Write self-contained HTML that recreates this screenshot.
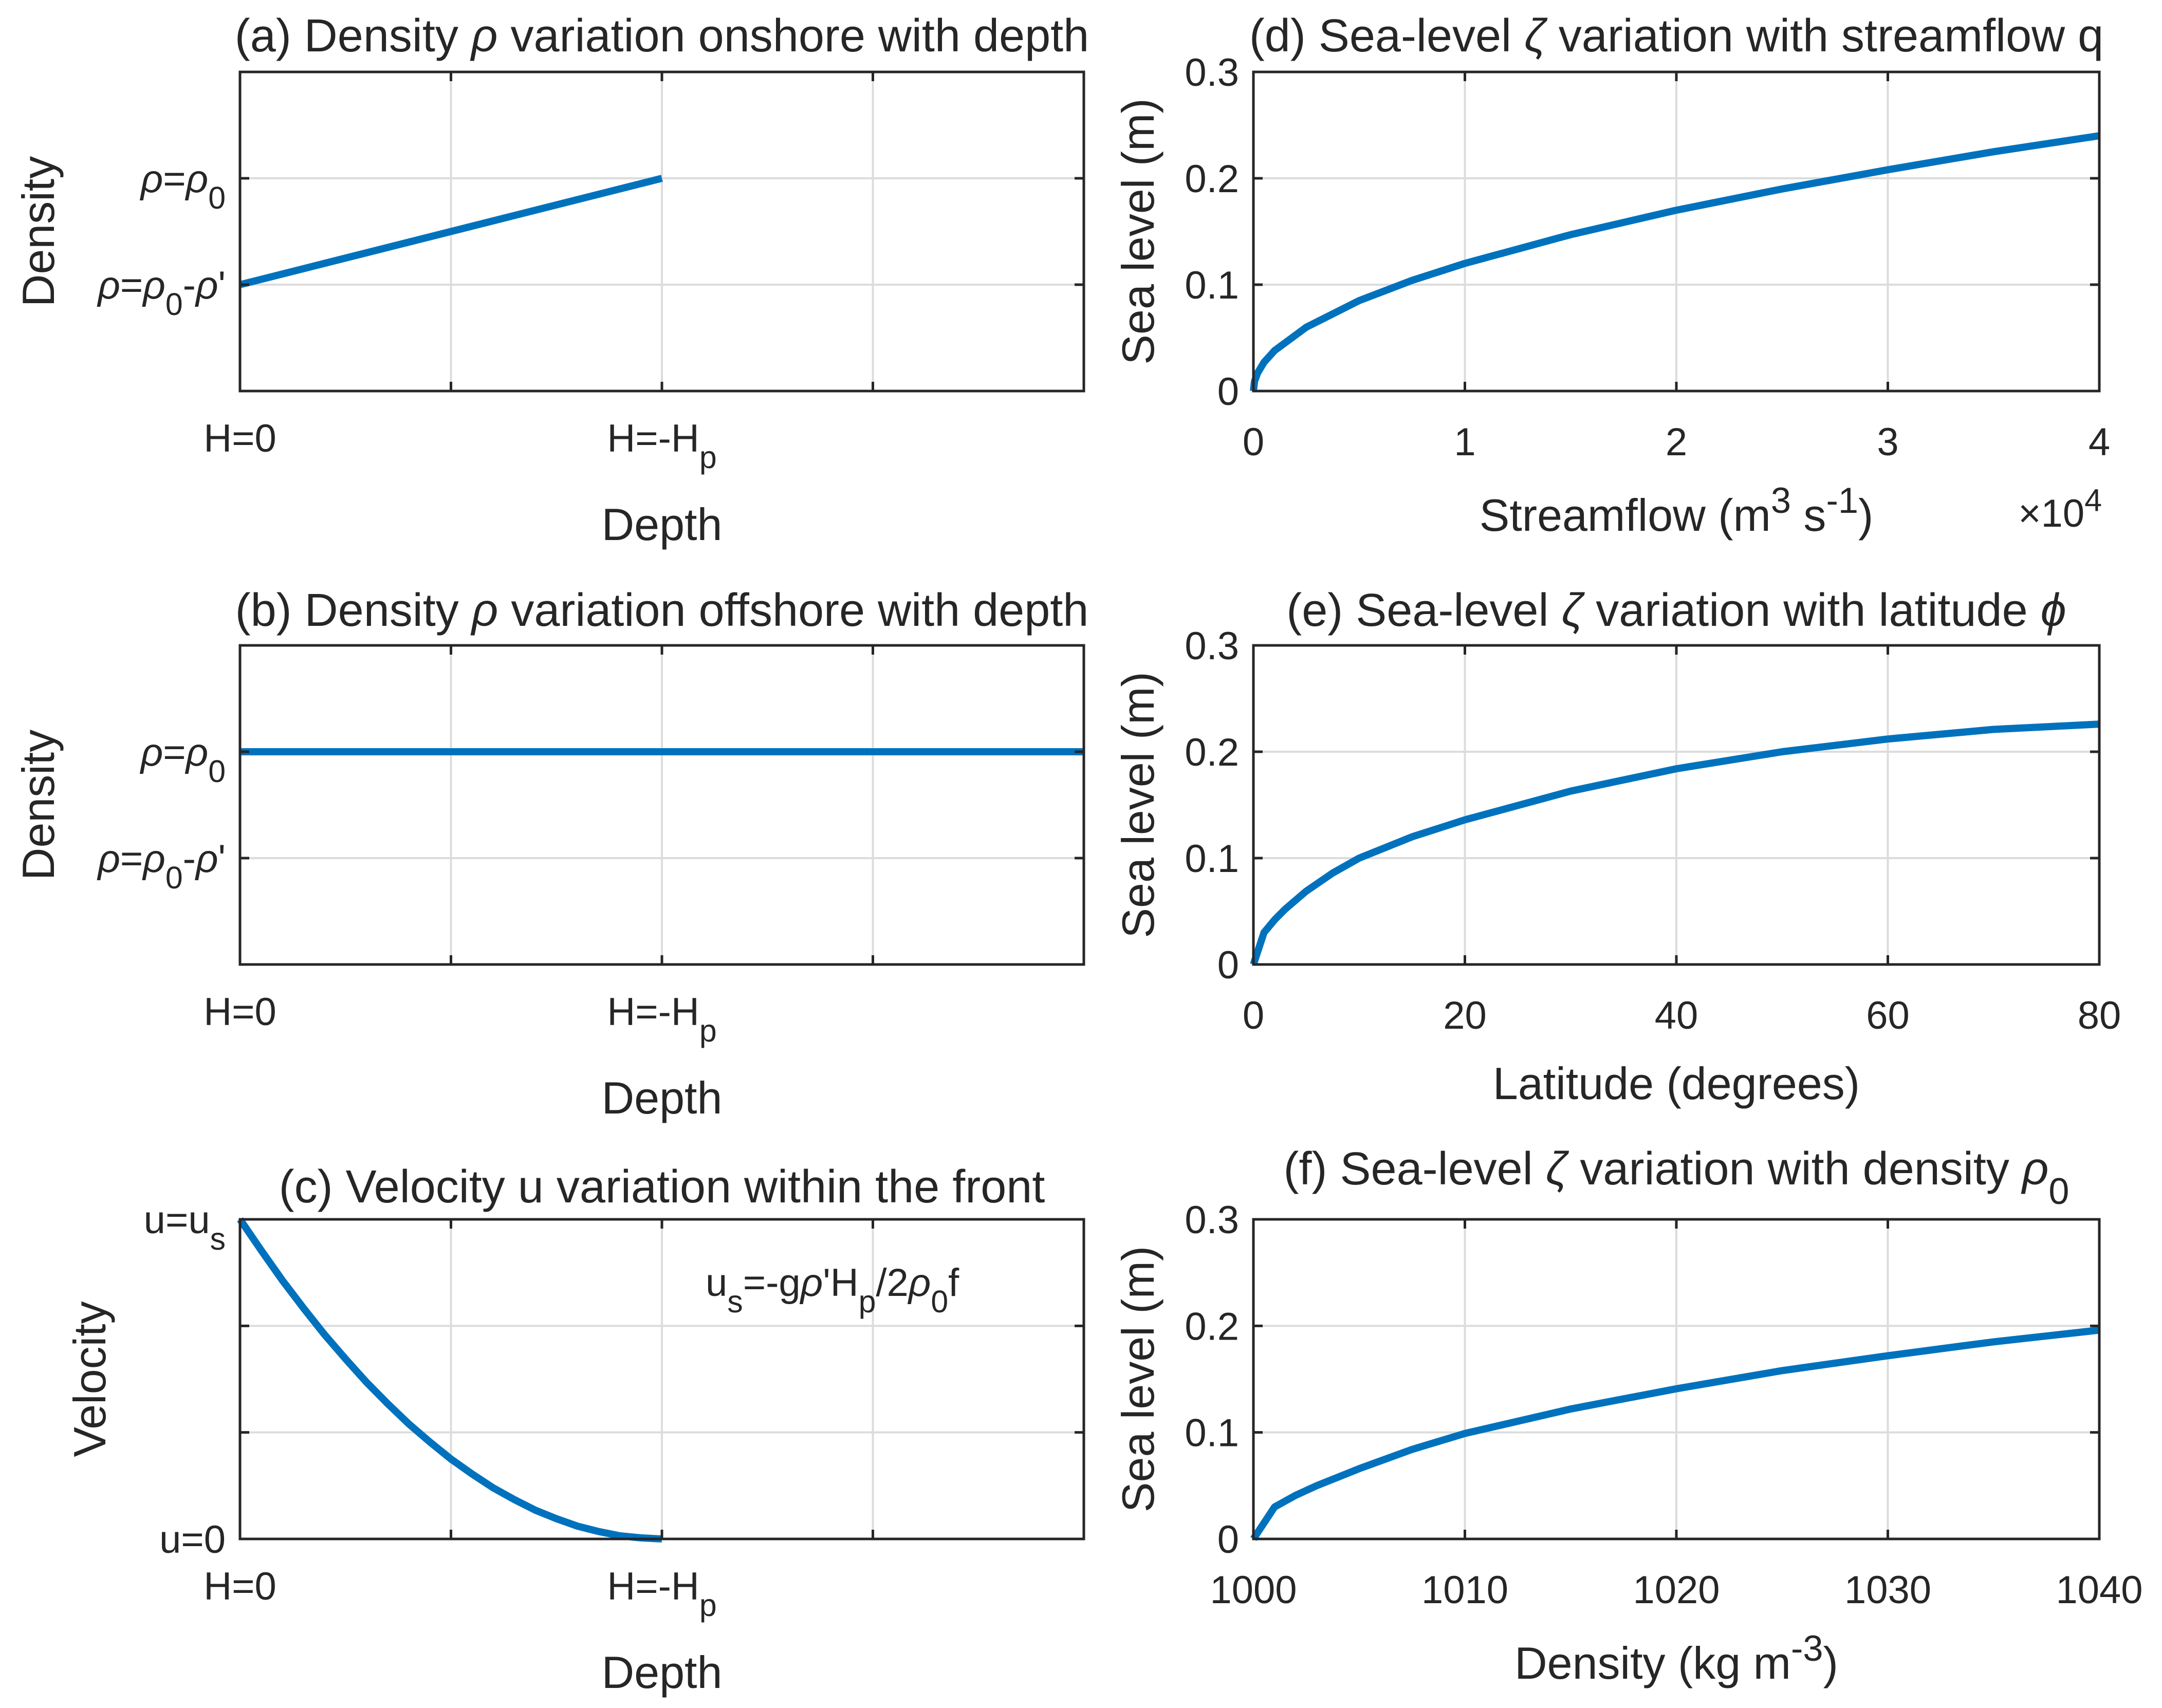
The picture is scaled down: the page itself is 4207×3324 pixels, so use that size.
<!DOCTYPE html>
<html><head><meta charset="utf-8"><style>
html,body{margin:0;padding:0;background:#fff}
svg{display:block}
text{font-family:"Liberation Sans",sans-serif;fill:#262626}
</style></head><body>
<svg id="fig" width="4207" height="3324" viewBox="0 0 4207 3324" xmlns="http://www.w3.org/2000/svg"></svg>
<script>
// ---- data ----
const aX = [0, 2];
const aY = [1, 2];
const bX = [0, 4];
const bY = [2, 2];
const cX = [0, 0.1, 0.2, 0.3, 0.4, 0.5, 0.6, 0.7, 0.8, 0.9, 1.0, 1.1, 1.2, 1.3, 1.4, 1.5, 1.6, 1.7, 1.8, 1.9, 2.0];
const cY = [3, 2.71, 2.43, 2.17, 1.92, 1.69, 1.47, 1.27, 1.08, 0.91, 0.75, 0.61, 0.48, 0.37, 0.27, 0.19, 0.12, 0.07, 0.03, 0.01, 0];
const dX = [0, 0.005, 0.02, 0.05, 0.1, 0.25, 0.5, 0.75, 1, 1.5, 2, 2.5, 3, 3.5, 4];
const dY = [0, 0.009, 0.017, 0.027, 0.038, 0.06, 0.085, 0.104, 0.12, 0.147, 0.17, 0.19, 0.208, 0.225, 0.24];
const eX = [0, 1, 2, 3, 5, 7.5, 10, 15, 20, 30, 40, 50, 60, 70, 80];
const eY = [0, 0.03, 0.042, 0.052, 0.069, 0.086, 0.1, 0.12, 0.136, 0.163, 0.184, 0.2, 0.212, 0.221, 0.226];
const fX = [1000, 1001, 1002, 1003, 1005, 1007.5, 1010, 1015, 1020, 1025, 1030, 1035, 1040];
const fY = [0, 0.03, 0.041, 0.05, 0.066, 0.084, 0.099, 0.122, 0.141, 0.158, 0.172, 0.185, 0.196];
const numYTicks = [0, 0.1, 0.2, 0.3];
const numYTickLabels = ["0", "0.1", "0.2", "0.3"];
const dXTicks = [0, 1, 2, 3, 4];
const eXTicks = [0, 20, 40, 60, 80];
const fXTicks = [1000, 1010, 1020, 1030, 1040];

const NS = "http://www.w3.org/2000/svg";
const svg = document.getElementById('fig');
function mk(tag, attrs, parent) {
  const e = document.createElementNS(NS, tag);
  for (const k in attrs) e.setAttribute(k, attrs[k]);
  (parent || svg).appendChild(e);
  return e;
}
function rich(parent, x, y, parts, size, anchor, rot) {
  const t = mk('text', {x: x, y: y, 'font-size': size, 'text-anchor': anchor || 'middle'}, parent);
  if (rot) t.setAttribute('transform', 'rotate(' + rot + ' ' + x + ' ' + y + ')');
  let shift = 0;
  parts.forEach(p => {
    const s = document.createElementNS(NS, 'tspan');
    s.textContent = p[0];
    let dy = 0;
    if (p[1] === 'sub') { dy = size * 0.42 - shift; shift = size * 0.42; s.setAttribute('font-size', size * 0.8); }
    else if (p[1] === 'sup') { dy = -size * 0.4 - shift; shift = -size * 0.4; s.setAttribute('font-size', size * 0.8); }
    else { dy = -shift; shift = 0; if (p[1] === 'it') s.setAttribute('font-style', 'italic'); }
    if (dy) s.setAttribute('dy', dy);
    t.appendChild(s);
  });
  return t;
}

function panel(cfg) {
  const g = mk('g', {});
  
  
  const L = cfg.L, R = cfg.R, T = cfg.T, B = cfg.B;
  const sx = v => L + (v - cfg.xmin) / (cfg.xmax - cfg.xmin) * (R - L);
  const sy = v => B - (v - cfg.ymin) / (cfg.ymax - cfg.ymin) * (B - T);
  const grid = mk('g', {stroke: '#dcdcdc', 'stroke-width': 4}, g);
  
  
  cfg.xgrid.forEach(v => mk('line', {x1: sx(v), x2: sx(v), y1: T, y2: B}, grid));
  cfg.ygrid.forEach(v => mk('line', {x1: L, x2: R, y1: sy(v), y2: sy(v)}, grid));
  const pts = cfg.xs.map((x, i) => sx(x).toFixed(1) + ',' + sy(cfg.ys[i]).toFixed(1)).join(' ');
  const line = mk('polyline', {points: pts, fill: 'none', stroke: '#0072BD', 'stroke-width': 14, 'stroke-linejoin': 'round'}, g);
  
  
  const ax = mk('g', {stroke: '#262626', 'stroke-width': 5, fill: 'none'}, g);
  
  
  mk('rect', {x: L, y: T, width: R - L, height: B - T}, ax);
  const tl = 18;
  cfg.xgrid.forEach(v => {
    mk('line', {x1: sx(v), x2: sx(v), y1: B, y2: B - tl}, ax);
    mk('line', {x1: sx(v), x2: sx(v), y1: T, y2: T + tl}, ax);
  });
  cfg.ygrid.forEach(v => {
    mk('line', {x1: L, x2: L + tl, y1: sy(v), y2: sy(v)}, ax);
    mk('line', {x1: R, x2: R - tl, y1: sy(v), y2: sy(v)}, ax);
  });
  const xl = mk('g', {}, g);
  
  
  cfg.xlabels.forEach(l => rich(xl, sx(l[0]), B + cfg.xlOff, l[1], 76, 'middle'));
  const yl = mk('g', {}, g);
  
  
  cfg.ylabels.forEach(l => rich(yl, L - 28, sy(l[0]) + 27, l[1], 76, 'end'));
  const t = rich(g, (L + R) / 2, cfg.titleY, cfg.title, 90, 'middle');
  
  
  const xt = rich(g, (L + R) / 2, B + cfg.xtOff, cfg.xtitle, 88, 'middle');
  
  
  const yt = rich(g, cfg.ytX, (T + B) / 2, cfg.ytitle, 88, 'middle', -90);
  
  
  return {g, sx, sy};
}

const LL = 467, LR = 2109, RL = 2439, RR = 4085;
const rows = [[140, 761], [1256, 1877], [2373, 2995]];
const rho0 = [['ρ', 'it'], ['=', 'n'], ['ρ', 'it'], ['0', 'sub']];
const rho1 = [['ρ', 'it'], ['=', 'n'], ['ρ', 'it'], ['0', 'sub'], ['-', 'n'], ['ρ', 'it'], ["'", 'n']];
const hx = [[0, [['H=0', 'n']]], [2, [['H=-H', 'n'], ['p', 'sub']]]];

panel({name: 'panel-a', L: LL, R: LR, T: rows[0][0], B: rows[0][1], xmin: 0, xmax: 4, ymin: 0, ymax: 3,
  xgrid: [1, 2, 3], ygrid: [1, 2], xs: aX, ys: aY, xlabels: hx, xlOff: 118,
  ylabels: [[2, rho0], [1, rho1]], title: [['(a) Density ', 'n'], ['ρ', 'it'], [' variation onshore with depth', 'n']],
  titleY: 100, xtitle: [['Depth', 'n']], xtOff: 290, ytitle: [['Density', 'n']], ytX: 105});
panel({name: 'panel-b', L: LL, R: LR, T: rows[1][0], B: rows[1][1], xmin: 0, xmax: 4, ymin: 0, ymax: 3,
  xgrid: [1, 2, 3], ygrid: [1, 2], xs: bX, ys: bY, xlabels: hx, xlOff: 118,
  ylabels: [[2, rho0], [1, rho1]], title: [['(b) Density ', 'n'], ['ρ', 'it'], [' variation offshore with depth', 'n']],
  titleY: 1218, xtitle: [['Depth', 'n']], xtOff: 290, ytitle: [['Density', 'n']], ytX: 105});
const pc = panel({name: 'panel-c', L: LL, R: LR, T: rows[2][0], B: rows[2][1], xmin: 0, xmax: 4, ymin: 0, ymax: 3,
  xgrid: [1, 2, 3], ygrid: [1, 2], xs: cX, ys: cY, xlabels: hx, xlOff: 118,
  ylabels: [[3, [['u=u', 'n'], ['s', 'sub']]], [0, [['u=0', 'n']]]],
  title: [['(c) Velocity u variation within the front', 'n']],
  titleY: 2340, xtitle: [['Depth', 'n']], xtOff: 290, ytitle: [['Velocity', 'n']], ytX: 205});
const ann = rich(pc.g, 1373, 2522, [['u', 'n'], ['s', 'sub'], ['=-g', 'n'], ['ρ', 'it'], ["'H", 'n'], ['p', 'sub'], ['/2', 'n'], ['ρ', 'it'], ['0', 'sub'], ['f', 'n']], 76, 'start');



const ylab = numYTicks.map((v, i) => [v, [[numYTickLabels[i], 'n']]]);
const seaT = [['Sea level (m)', 'n']];
const pd = panel({name: 'panel-d', L: RL, R: RR, T: rows[0][0], B: rows[0][1], xmin: 0, xmax: 4, ymin: 0, ymax: 0.3,
  xgrid: [1, 2, 3], ygrid: [0.1, 0.2], xs: dX, ys: dY, xlabels: dXTicks.map(v => [v, [[String(v), 'n']]]), xlOff: 125,
  ylabels: ylab, title: [['(d) Sea-level ', 'n'], ['ζ', 'it'], [' variation with streamflow q', 'n']],
  titleY: 100, xtitle: [['Streamflow (m', 'n'], ['3', 'sup'], [' s', 'n'], ['-1', 'sup'], [')', 'n']], xtOff: 272, ytitle: seaT, ytX: 2245});
const mult = rich(pd.g, 4090, 1025, [['×10', 'n'], ['4', 'sup']], 76, 'end');


panel({name: 'panel-e', L: RL, R: RR, T: rows[1][0], B: rows[1][1], xmin: 0, xmax: 80, ymin: 0, ymax: 0.3,
  xgrid: [20, 40, 60], ygrid: [0.1, 0.2], xs: eX, ys: eY, xlabels: eXTicks.map(v => [v, [[String(v), 'n']]]), xlOff: 125,
  ylabels: ylab, title: [['(e) Sea-level ', 'n'], ['ζ', 'it'], [' variation with latitude ', 'n'], ['ϕ', 'it']],
  titleY: 1218, xtitle: [['Latitude (degrees)', 'n']], xtOff: 262, ytitle: seaT, ytX: 2245});
panel({name: 'panel-f', L: RL, R: RR, T: rows[2][0], B: rows[2][1], xmin: 1000, xmax: 1040, ymin: 0, ymax: 0.3,
  xgrid: [1010, 1020, 1030], ygrid: [0.1, 0.2], xs: fX, ys: fY, xlabels: fXTicks.map(v => [v, [[String(v), 'n']]]), xlOff: 125,
  ylabels: ylab, title: [['(f) Sea-level ', 'n'], ['ζ', 'it'], [' variation with density ', 'n'], ['ρ', 'it'], ['0', 'sub']],
  titleY: 2305, xtitle: [['Density (kg m', 'n'], ['-3', 'sup'], [')', 'n']], xtOff: 272, ytitle: seaT, ytX: 2245});
</script>
</body></html>
